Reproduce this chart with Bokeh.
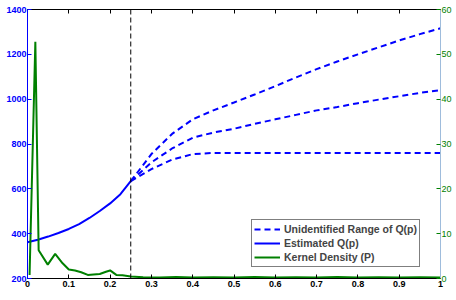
from bokeh.plotting import figure
from bokeh.models import Range1d, LinearAxis, FixedTicker, Span, Legend, LegendItem
from bokeh.embed import file_html
from bokeh.resources import INLINE

# Estimated Q(p) (identified part)
p_est = [0.0, 0.025, 0.05, 0.075, 0.1, 0.125, 0.15, 0.175, 0.2, 0.225, 0.25]
q_est = [362, 373, 387, 403, 421, 443, 470, 501, 535, 576, 634]

# Unidentified range of Q(p): three branches
p_unid = [0.25, 0.30, 0.35, 0.40, 0.45, 0.50, 0.55, 0.60, 0.65, 0.70, 0.75, 0.80, 0.85, 0.90, 0.95, 1.00]
q_upper = [634, 755, 845, 910, 950, 985, 1021, 1058, 1097, 1134, 1168, 1200, 1231, 1262, 1290, 1316]
q_middle = [634, 718, 780, 828, 851, 868, 890, 910, 930, 950, 965, 982, 998, 1013, 1028, 1040]
q_lower = [634, 688, 730, 755, 760, 760, 760, 760, 760, 760, 760, 760, 760, 760, 760, 760]

# Kernel density of P
p_dens = [0.005, 0.019, 0.027, 0.049, 0.067, 0.085, 0.1, 0.115, 0.13, 0.146, 0.16, 0.175,
          0.19, 0.2, 0.215, 0.23, 0.25, 0.28, 0.32, 0.36, 0.4, 0.45, 0.5, 0.55, 0.6, 0.65,
          0.7, 0.75, 0.8, 0.85, 0.9, 0.95, 1.0]
dens = [0.8, 52.8, 6.3, 3.1, 5.5, 3.4, 2.0, 1.8, 1.4, 0.8, 0.9, 1.0,
        1.5, 1.8, 0.8, 0.7, 0.45, 0.3, 0.2, 0.35, 0.2, 0.3, 0.2, 0.35, 0.2, 0.3,
        0.2, 0.35, 0.2, 0.3, 0.2, 0.3, 0.2]

x_ticks = [0, 0.1, 0.2, 0.3, 0.4, 0.5, 0.6, 0.7, 0.8, 0.9, 1]
x_labels = {0: "0", 0.1: "0.1", 0.2: "0.2", 0.3: "0.3", 0.4: "0.4", 0.5: "0.5",
            0.6: "0.6", 0.7: "0.7", 0.8: "0.8", 0.9: "0.9", 1: "1"}
y_ticks = [200, 400, 600, 800, 1000, 1200, 1400]
d_ticks = [0, 10, 20, 30, 40, 50, 60]
p_cut = 0.25

BLUE = "#0000ff"
GREEN = "#008000"
FONT = "Liberation Sans"

p = figure(width=454, height=290, output_backend="svg", toolbar_location=None,
           x_range=Range1d(0, 1), y_range=Range1d(200, 1400),
           min_border_left=27, min_border_right=12, min_border_top=9, min_border_bottom=12)
p.extra_y_ranges = {"dens": Range1d(0, 60)}
p.xgrid.visible = False
p.ygrid.visible = False
p.outline_line_color = "black"
p.outline_line_width = 1

# axes styling
xa = p.xaxis[0]
xa.ticker = FixedTicker(ticks=x_ticks)
xa.major_label_overrides = x_labels
xa.major_label_text_font = FONT
xa.major_label_text_font_style = "bold"
xa.major_label_text_font_size = "9px"
xa.major_label_text_color = "black"
xa.major_tick_in = 4
xa.major_tick_out = 0
xa.minor_tick_line_color = None
xa.axis_line_color = "black"
xa.major_label_standoff = 2

ya = p.yaxis[0]
ya.ticker = FixedTicker(ticks=y_ticks)
ya.major_label_text_font = FONT
ya.major_label_text_font_style = "bold"
ya.major_label_text_font_size = "9px"
ya.major_label_text_color = BLUE
ya.axis_line_color = BLUE
ya.major_tick_line_color = BLUE
ya.major_tick_in = 4
ya.major_tick_out = 0
ya.minor_tick_line_color = None
ya.major_label_standoff = 1

ra = LinearAxis(y_range_name="dens", ticker=FixedTicker(ticks=d_ticks))
ra.major_label_text_font = FONT
ra.major_label_text_font_size = "9px"
ra.major_label_text_color = GREEN
ra.axis_line_color = "#9fbcdc"
ra.major_tick_line_color = GREEN
ra.major_tick_in = 4
ra.major_tick_out = 0
ra.minor_tick_line_color = None
ra.major_label_standoff = 1
p.add_layout(ra, "right")

ta = LinearAxis(ticker=FixedTicker(ticks=x_ticks), major_label_text_font_size="0px")
ta.major_tick_in = 4
ta.major_tick_out = 0
ta.minor_tick_line_color = None
ta.axis_line_color = "black"
ta.major_label_standoff = 0
ta.major_label_text_color = None
p.add_layout(ta, "above")

# vertical cut line
p.add_layout(Span(location=p_cut, dimension="height", line_color="black",
                  line_dash="5 3", line_width=1))

r_up = p.line(p_unid, q_upper, line_color=BLUE, line_width=2, line_dash="6 4")
p.line(p_unid, q_middle, line_color=BLUE, line_width=2, line_dash="6 4")
p.line(p_unid, q_lower, line_color=BLUE, line_width=2, line_dash="6 4")
r_est = p.line(p_est, q_est, line_color=BLUE, line_width=2)
r_den = p.line(p_dens, dens, line_color=GREEN, line_width=2, y_range_name="dens")

legend = Legend(items=[
    LegendItem(label="Unidentified Range of Q(p)", renderers=[r_up]),
    LegendItem(label="Estimated Q(p)", renderers=[r_est]),
    LegendItem(label="Kernel Density (P)", renderers=[r_den]),
], location=(224, 11))
legend.label_text_font = FONT
legend.label_text_font_style = "bold"
legend.label_text_font_size = "10.5px"
legend.label_height = 14
legend.glyph_height = 14
legend.glyph_width = 26
legend.spacing = 0
legend.padding = 2
legend.margin = 0
legend.label_standoff = 4
legend.border_line_color = "black"
legend.border_line_width = 1
legend.background_fill_alpha = 1
p.add_layout(legend)

open("out.html", "w").write(file_html(p, INLINE))
